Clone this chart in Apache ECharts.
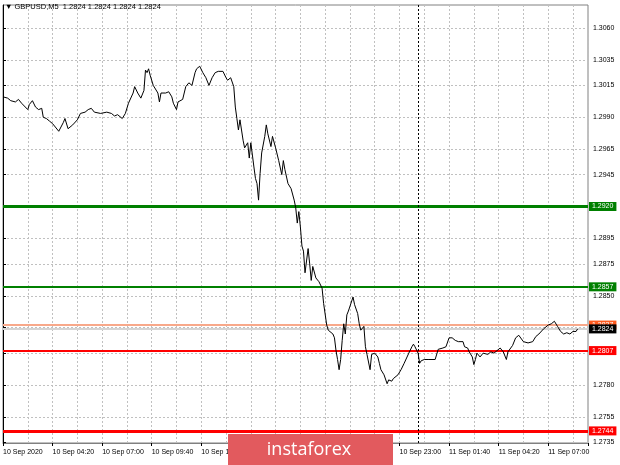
<!DOCTYPE html>
<html><head><meta charset="utf-8">
<script src="https://cdn.jsdelivr.net/npm/echarts@6/dist/echarts.min.js"></script>
<style>html,body{margin:0;padding:0;background:#fff}#c{width:620px;height:465px}</style>
</head><body><div id="c"></div>
<script>
// M5 bar index (0 = 10 Sep 01:40) and close price
const barIndex = [0,3,5,8,10,12,16,17,19,21,23,25,26,28,30,32,36,39,40,42,45,48,50,53,55,57,59,63,67,70,72,74,77,79,81,84,85,87,89,91,92,93,94,95,97,100,101,102,103,105,107,109,110,112,113,116,118,120,122,124,125,127,129,131,133,135,137,139,142,143,144,145,147,149,150,151,152,153,154,155,156,158,159,160,162,163,164,165,166,167,169,170,171,173,174,176,178,180,181,182,184,186,188,189,190,191,192,193,194,195,197,198,199,200,202,204,205,206,207,209,210,213,214,215,216,217,218,219,220,221,222,223,224,226,227,229,230,231,233,234,235,237,238,240,242,243,244,246,248,249,251,252,255,257,259,262,264,265,266,268,269,270,272,275,279,281,284,286,288,290,292,294,297,298,300,301,303,304,305,306,308,310,313,315,317,319,321,323,325,326,329,331,333,336,337,339,342,344,346,349,352,354,356,358,360,362,364,366,368,370,371];
const closePrice = [1.3006,1.3005,1.3003,1.3002,1.3004,1.3001,1.2996,1.3000,1.3003,1.2998,1.2996,1.2997,1.2990,1.2989,1.2987,1.2985,1.2979,1.2986,1.2989,1.2981,1.2984,1.2988,1.2993,1.2994,1.2996,1.2997,1.2994,1.2993,1.2994,1.2993,1.2991,1.2992,1.2989,1.2993,1.3001,1.3009,1.3014,1.3009,1.3005,1.3011,1.3027,1.3025,1.3028,1.3023,1.3015,1.3009,1.3002,1.3009,1.3010,1.3009,1.3010,1.3006,1.3001,1.2996,1.3002,1.3004,1.3014,1.3017,1.3015,1.3025,1.3028,1.3030,1.3025,1.3021,1.3015,1.3021,1.3025,1.3026,1.3026,1.3027,1.3021,1.3019,1.3021,1.3014,1.2998,1.2989,1.2980,1.2988,1.2987,1.2972,1.2966,1.2970,1.2958,1.2970,1.2951,1.2942,1.2938,1.2925,1.2946,1.2962,1.2975,1.2984,1.2977,1.2967,1.2975,1.2966,1.2956,1.2945,1.2956,1.2949,1.2938,1.2934,1.2925,1.2919,1.2907,1.2916,1.2904,1.2889,1.2885,1.2868,1.2887,1.2875,1.2862,1.2873,1.2864,1.2861,1.2862,1.2856,1.2844,1.2827,1.2823,1.2820,1.2817,1.2807,1.2800,1.2792,1.2800,1.2815,1.2828,1.2820,1.2835,1.2838,1.2839,1.2849,1.2843,1.2836,1.2828,1.2823,1.2826,1.2810,1.2804,1.2792,1.2804,1.2805,1.2802,1.2797,1.2792,1.2788,1.2781,1.2784,1.2783,1.2785,1.2788,1.2792,1.2797,1.2805,1.2810,1.2812,1.2810,1.2805,1.2797,1.2799,1.2800,1.2800,1.2800,1.2808,1.2809,1.2810,1.2817,1.2817,1.2815,1.2814,1.2814,1.2810,1.2809,1.2806,1.2802,1.2796,1.2800,1.2805,1.2802,1.2805,1.2804,1.2806,1.2805,1.2807,1.2809,1.2806,1.2800,1.2806,1.2811,1.2817,1.2819,1.2814,1.2814,1.2813,1.2814,1.2818,1.2820,1.2824,1.2827,1.2828,1.2830,1.2826,1.2822,1.2820,1.2821,1.2820,1.2822,1.2822,1.2824];
// time axis labels, one every 32 bars
const timeLabels = ['10 Sep 2020','10 Sep 04:20','10 Sep 07:00','10 Sep 09:40','10 Sep 12:20','10 Sep 15:00','10 Sep 17:40','10 Sep 20:20','10 Sep 23:00','11 Sep 01:40','11 Sep 04:20','11 Sep 07:00'];
const labelStep = 32;
// price scale labels
const priceTicks = [1.2735,1.2755,1.2780,1.2805,1.2825,1.2850,1.2875,1.2895,1.2920,1.2945,1.2965,1.2990,1.3015,1.3035,1.3060];
// horizontal levels
const levelPrices = [1.2920, 1.2857, 1.2827, 1.2824, 1.2807, 1.2744];
const daySeparatorBar = 268;
const titleText = '\u25BC GBPUSD,M5  1.2824 1.2824 1.2824 1.2824';

const levelStyles = [
  {line:'#008000', width:3, box:'#008000'},
  {line:'#008000', width:2, box:'#008000'},
  {line:'#f8a88a', width:2, box:'#ff5a1e'},
  {line:'#d4d4d4', width:2, box:'#000000'},
  {line:'#ff0000', width:2, box:'#ff0000'},
  {line:'#ff0000', width:3, box:'#ff0000'}
];
const FONT = 'Liberation Sans';
const chart = echarts.init(document.getElementById('c'), null, {renderer:'canvas'});
const lineData = barIndex.map((b,i)=>[b, closePrice[i]]);
const markData = levelPrices.map((p,i)=>({
  yAxis: p,
  lineStyle:{color:levelStyles[i].line, width:levelStyles[i].width, type:'solid'},
  label:{show:true, position:'end', distance:1, formatter:p.toFixed(4), color:'#fff',
    backgroundColor:levelStyles[i].box, padding:[1,3,1,3], fontSize:7, fontFamily:FONT}
}));
markData.push({xAxis: daySeparatorBar, lineStyle:{color:'#000', width:1, type:[2,2]}, label:{show:false}});

chart.setOption({
  animation:false,
  backgroundColor:'#fff',
  grid:{left:3, right:32, top:5, bottom:22, show:true, borderColor:'#808080', borderWidth:1},
  xAxis:{type:'value', min:0, max:377.7, interval:labelStep,
    axisLine:{show:true, lineStyle:{color:'#808080'}},
    axisTick:{show:true, length:3, lineStyle:{color:'#000'}},
    axisLabel:{show:true, align:'left', margin:6, fontSize:7, fontFamily:FONT, color:'#000',
      formatter:v=>{const k=v/labelStep; return (Number.isInteger(k) && k<timeLabels.length)?timeLabels[k]:'';}},
    splitLine:{show:true, lineStyle:{color:'#c0c0c0', type:[2,2]}},
    minorTick:{show:false, splitNumber:2},
    minorSplitLine:{show:true, lineStyle:{color:'#c0c0c0', type:[2,2]}}
  },
  yAxis:{type:'value', position:'right', min:1.273451, max:1.307804, scale:true,
    axisLine:{show:true, lineStyle:{color:'#000'}},
    axisTick:{show:true, length:3, customValues:priceTicks, lineStyle:{color:'#000'}},
    axisLabel:{show:true, customValues:priceTicks, margin:5, fontSize:7, fontFamily:FONT, color:'#000',
      formatter:v=>v.toFixed(4)},
    splitLine:{show:true, lineStyle:{color:'#c0c0c0', type:[2,2]}}
  },
  series:[{
    type:'line', data:lineData, showSymbol:false, symbol:'none',
    lineStyle:{color:'#000', width:1}, z:3,
    markLine:{silent:true, precision:4, symbol:['none','none'], data:markData, z:2}
  }],
  graphic:[
    {type:'text', left:5, top:3, z:10, style:{text:titleText, fontSize:7.5, fontFamily:FONT, fill:'#000'}},
    {type:'rect', shape:{x:228, y:434, width:165, height:31}, z:20, style:{fill:'#e25a5e'}},
    {type:'text', x:309, y:450, z:21, style:{text:'instaforex', fontSize:18, fontFamily:'Open Sans', fill:'#fff', align:'center', verticalAlign:'middle'}}
  ]
});
</script></body></html>
